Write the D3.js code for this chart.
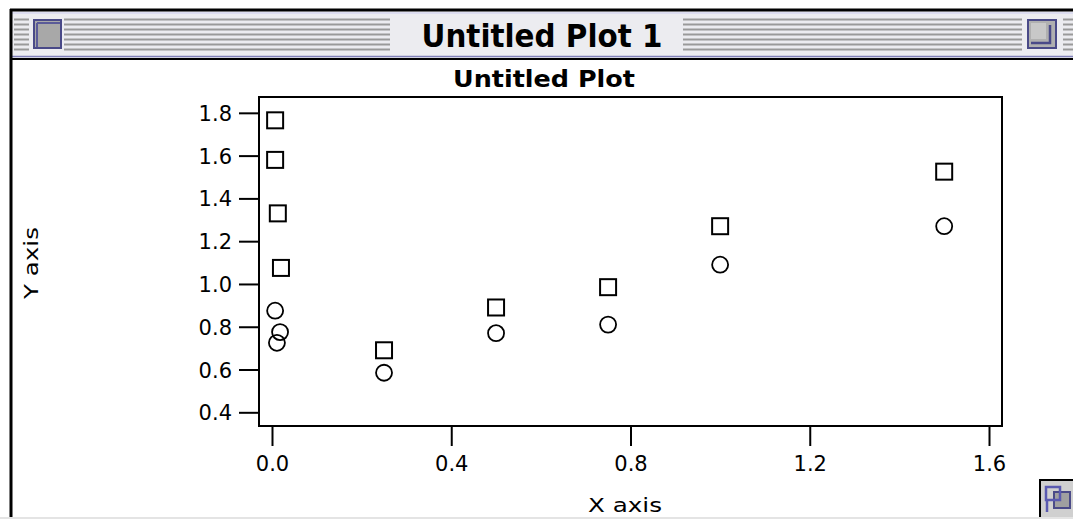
<!DOCTYPE html>
<html><head><meta charset="utf-8">
<script src="https://cdn.jsdelivr.net/npm/d3@7"></script>
<style>
html,body{margin:0;padding:0;background:#fff;overflow:hidden;}
svg{display:block;}
text{font-family:"DejaVu Sans",sans-serif;fill:#000;}
</style></head>
<body>
<svg id="c" width="1073" height="519"></svg>
<script>
const windowTitle = "Untitled Plot 1";
const chartTitle = "Untitled Plot";
const xLabel = "X axis";
const yLabel = "Y axis";
const xTicks = [0.0, 0.4, 0.8, 1.2, 1.6];
const yTicks = [0.4, 0.6, 0.8, 1.0, 1.2, 1.4, 1.6, 1.8];
const squareX = [0.007, 0.007, 0.013, 0.020, 0.25, 0.50, 0.75, 1.00, 1.50];
const squareY = [1.765, 1.58, 1.33, 1.075, 0.69, 0.89, 0.985, 1.27, 1.525];
const circleX = [0.007, 0.018, 0.011, 0.25, 0.50, 0.75, 1.00, 1.50];
const circleY = [0.875, 0.775, 0.725, 0.585, 0.77, 0.81, 1.09, 1.27];

const svg = d3.select("#c");

// ---- window chrome ----
svg.append("rect").attr("x",0).attr("y",0).attr("width",1073).attr("height",519).attr("fill","#fff");
svg.append("rect").attr("x",10).attr("y",10).attr("width",1070).attr("height",49).attr("fill","#ececf0");
svg.append("line").attr("x1",10).attr("x2",1073).attr("y1",10).attr("y2",10).attr("stroke","#000").attr("stroke-width",3);
svg.append("line").attr("x1",11).attr("x2",1073).attr("y1",13).attr("y2",13).attr("stroke","#d8d8f0").attr("stroke-width",1.5);
svg.append("line").attr("x1",10).attr("x2",1073).attr("y1",56.5).attr("y2",56.5).attr("stroke","#8080b8").attr("stroke-width",1.5);
svg.append("line").attr("x1",10).attr("x2",1073).attr("y1",59).attr("y2",59).attr("stroke","#000").attr("stroke-width",2);
svg.append("line").attr("x1",11).attr("x2",11).attr("y1",9).attr("y2",519).attr("stroke","#000").attr("stroke-width",3);

const stripeYs = d3.range(7).map(i => 19.5 + i*5);
const stripeRanges = [[14,29],[64,390],[683,1022],[1063,1073]];
stripeRanges.forEach(r => {
  stripeYs.forEach(y => {
    svg.append("line").attr("x1",r[0]).attr("x2",r[1]).attr("y1",y).attr("y2",y)
      .attr("stroke","#9a9a9a").attr("stroke-width",2);
  });
});
// close box
svg.append("rect").attr("x",31).attr("y",18).attr("width",32).attr("height",32).attr("fill","#ececf0");
svg.append("rect").attr("x",34).attr("y",20).attr("width",27).attr("height",28).attr("fill","#a8a8a8").attr("stroke","#4a4a88").attr("stroke-width",2);
svg.append("line").attr("x1",37).attr("x2",60).attr("y1",23).attr("y2",23).attr("stroke","#5a5a98").attr("stroke-width",2);
svg.append("line").attr("x1",37).attr("x2",37).attr("y1",23).attr("y2",47).attr("stroke","#5a5a98").attr("stroke-width",2);
// zoom box
svg.append("rect").attr("x",1025).attr("y",18).attr("width",35).attr("height",32).attr("fill","#ececf0");
svg.append("rect").attr("x",1028).attr("y",20).attr("width",28).attr("height",28).attr("fill","#b0b0b0").attr("stroke","#4a4a88").attr("stroke-width",2);
svg.append("path").attr("d","M1031,43 H1050 V25").attr("fill","none").attr("stroke","#4a4a88").attr("stroke-width",2.5);
svg.append("rect").attr("x",1031).attr("y",23).attr("width",15).attr("height",16).attr("fill","#c8c8c8");

svg.append("text").attr("x",542).attr("y",47).attr("text-anchor","middle")
  .attr("font-size",32).attr("font-weight","bold")
  .attr("textLength",241).attr("lengthAdjust","spacingAndGlyphs").text(windowTitle);

// grow box
svg.append("rect").attr("x",1040).attr("y",480).attr("width",40).attr("height",45).attr("fill","#d0d0d0").attr("stroke","#000").attr("stroke-width",2);
svg.append("rect").attr("x",1054).attr("y",492).attr("width",16).attr("height",16).attr("fill","#a0a0a0").attr("stroke","#4a4a88").attr("stroke-width",2);
svg.append("rect").attr("x",1046).attr("y",487).attr("width",14).attr("height",13).attr("fill","none").attr("stroke","#5a5ab0").attr("stroke-width",2.5);
svg.append("line").attr("x1",1047).attr("x2",1047).attr("y1",500).attr("y2",512).attr("stroke","#5a5ab0").attr("stroke-width",2.5);
svg.append("line").attr("x1",0).attr("x2",1073).attr("y1",518).attr("y2",518).attr("stroke","#e4e4e4").attr("stroke-width",2);

// ---- plot ----
const L = 259, R = 1002, T = 97, B = 426;
const x = d3.scaleLinear().domain([-0.029, 1.629]).range([L, R]);
const y = d3.scaleLinear().domain([0.336, 1.874]).range([B, T]);

svg.append("text").attr("x",544).attr("y",87).attr("text-anchor","middle")
  .attr("font-size",23).attr("font-weight","bold")
  .attr("textLength",182).attr("lengthAdjust","spacingAndGlyphs").text(chartTitle);

const yAxis = svg.append("g").attr("transform",`translate(${L},0)`)
  .call(d3.axisLeft(y).tickValues(yTicks).tickSize(20).tickSizeOuter(0).tickPadding(7).tickFormat(d3.format(".1f")));
const xAxis = svg.append("g").attr("transform",`translate(0,${B})`)
  .call(d3.axisBottom(x).tickValues(xTicks).tickSize(20).tickSizeOuter(0).tickPadding(10).tickFormat(d3.format(".1f")));
[xAxis, yAxis].forEach(a => {
  a.select(".domain").remove();
  a.selectAll(".tick line").attr("stroke","#000").attr("stroke-width",2);
  a.selectAll(".tick text").attr("font-size",21).attr("font-family","DejaVu Sans, sans-serif").attr("fill","#000");
});
yAxis.selectAll(".tick text").attr("dy","0.36em");

svg.append("rect").attr("x",L).attr("y",T).attr("width",R-L).attr("height",B-T)
  .attr("fill","none").attr("stroke","#000").attr("stroke-width",2);

const sq = 16;
svg.append("g").selectAll("rect").data(squareX.map((v,i)=>[v,squareY[i]])).join("rect")
  .attr("x",d=>x(d[0])-sq/2).attr("y",d=>y(d[1])-sq/2).attr("width",sq).attr("height",sq)
  .attr("fill","none").attr("stroke","#000").attr("stroke-width",2);
svg.append("g").selectAll("circle").data(circleX.map((v,i)=>[v,circleY[i]])).join("circle")
  .attr("cx",d=>x(d[0])).attr("cy",d=>y(d[1])).attr("r",8)
  .attr("fill","none").attr("stroke","#000").attr("stroke-width",1.8);

svg.append("text").attr("x",625).attr("y",512).attr("text-anchor","middle")
  .attr("font-size",20).attr("textLength",74).attr("lengthAdjust","spacingAndGlyphs").text(xLabel);
svg.append("text").attr("transform",`translate(38,263) rotate(-90)`).attr("text-anchor","middle")
  .attr("font-size",20).attr("textLength",72).attr("lengthAdjust","spacingAndGlyphs").text(yLabel);
</script>
</body></html>
